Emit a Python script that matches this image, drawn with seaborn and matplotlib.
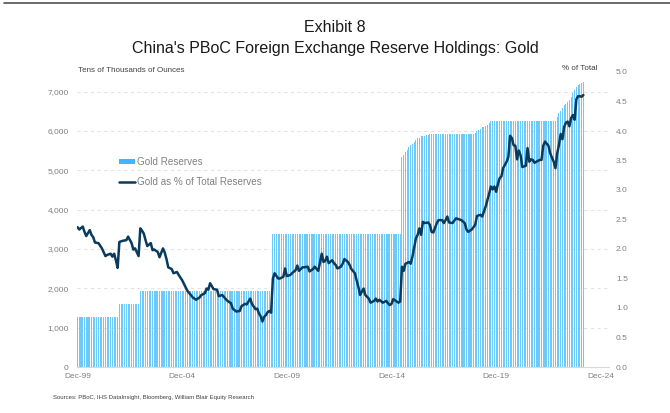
import numpy as np
import pandas as pd
import matplotlib
matplotlib.use("Agg")
import matplotlib.pyplot as plt
from matplotlib.lines import Line2D
from matplotlib.patches import Patch
from matplotlib.ticker import FuncFormatter, MultipleLocator
import seaborn as sns

# ---------------- data ----------------
# Gold reserves (tens of thousands of ounces), monthly from Dec-1999, given as level + number of months held
reserve_level = [1267, 1608, 1929, 3389,
                 5332, 5393, 5459, 5524, 5581, 5641, 5666, 5719, 5779, 5814, 5828, 5861,
                 5862, 5871, 5888, 5904, 5924,
                 5956, 5994, 6026, 6062, 6092, 6109, 6131, 6161, 6194, 6264,
                 6367, 6464, 6512, 6592, 6650, 6676, 6727, 6795, 6869, 6962, 7046,
                 7120, 7158, 7187, 7219, 7258]
reserve_months = [24, 12, 76, 74,
                  1, 1, 1, 1, 1, 1, 1, 1, 1, 1, 1, 1,
                  1, 1, 1, 1, 26,
                  1, 1, 1, 1, 1, 1, 1, 1, 1, 38,
                  1, 1, 1, 1, 1, 1, 1, 1, 1, 1, 1,
                  1, 1, 1, 1, 1]

# Gold as % of total reserves (month index from Dec-1999, value)
line_month = [0, 1, 3, 4, 5, 7, 8, 9, 10, 12, 14, 16, 17, 19, 20, 21, 22, 23, 24, 26,
              28, 29, 31, 32, 33, 35, 36, 37, 38, 39, 40, 42, 43, 44, 46, 47, 49, 50, 51, 52,
              54, 55, 57, 58, 60, 62, 63, 65, 66, 68, 70, 71, 73, 74, 75, 76, 78, 80, 81, 83,
              85, 86, 88, 89, 91, 93, 94, 96, 97, 99, 100, 102, 103, 104, 105, 106, 107, 108, 109, 110,
              111, 112, 113, 115, 116, 118, 119, 120, 122, 123, 125, 126, 127, 129, 130, 132, 133, 135, 136, 138,
              139, 140, 141, 142, 143, 144, 146, 147, 148, 149, 151, 152, 153, 155, 156, 157, 159, 160, 161, 162,
              164, 165, 167, 168, 170, 171, 172, 173, 175, 177, 178, 179, 180, 181, 183, 184, 185, 186, 187, 188,
              190, 191, 192, 194, 195, 196, 197, 198, 199, 201, 202, 203, 204, 206, 207, 209, 210, 211, 212, 213,
              215, 216, 217, 219, 220, 222, 223, 224, 226, 228, 229, 231, 232, 234, 235, 236, 237, 238, 239, 240,
              241, 242, 243, 244, 246, 247, 248, 249, 250, 251, 252, 253, 254, 255, 257, 258, 259, 260, 261, 262,
              263, 265, 266, 267, 268, 270, 271, 273, 274, 275, 276, 277, 278, 279, 280, 281, 282, 283, 284, 285,
              286, 287, 288, 289, 290]
line_pct = [2.37, 2.33, 2.38, 2.29, 2.22, 2.32, 2.24, 2.20, 2.11, 2.10, 2.01, 1.88, 1.90, 1.92, 1.87, 1.92, 1.81, 1.68, 2.12, 2.14,
            2.15, 2.21, 2.10, 1.99, 2.01, 1.88, 2.35, 2.31, 2.26, 2.15, 2.05, 2.10, 1.98, 1.99, 1.95, 1.86, 2.01, 1.94, 1.83, 1.69,
            1.66, 1.59, 1.61, 1.56, 1.47, 1.35, 1.29, 1.22, 1.18, 1.14, 1.18, 1.22, 1.25, 1.33, 1.31, 1.42, 1.32, 1.31, 1.20, 1.22,
            1.15, 1.12, 1.08, 0.99, 0.94, 0.95, 1.03, 1.07, 1.06, 1.16, 1.07, 0.98, 0.99, 0.91, 0.86, 0.77, 0.85, 0.88, 0.93, 0.95,
            0.92, 1.50, 1.59, 1.50, 1.50, 1.53, 1.67, 1.54, 1.56, 1.59, 1.64, 1.72, 1.63, 1.69, 1.69, 1.70, 1.62, 1.66, 1.70, 1.63,
            1.77, 1.92, 1.78, 1.80, 1.87, 1.76, 1.81, 1.76, 1.73, 1.67, 1.70, 1.75, 1.83, 1.78, 1.73, 1.66, 1.59, 1.47, 1.36, 1.22,
            1.33, 1.22, 1.16, 1.09, 1.12, 1.16, 1.11, 1.14, 1.09, 1.12, 1.08, 1.05, 1.07, 1.15, 1.11, 1.09, 1.11, 1.70, 1.63, 1.75,
            1.78, 1.75, 1.87, 2.18, 2.24, 2.35, 2.24, 2.46, 2.44, 2.45, 2.41, 2.29, 2.28, 2.44, 2.49, 2.49, 2.44, 2.49, 2.55, 2.45,
            2.44, 2.48, 2.52, 2.50, 2.49, 2.44, 2.33, 2.29, 2.33, 2.41, 2.56, 2.58, 2.55, 2.72, 2.83, 2.94, 3.06, 3.01, 3.06, 2.97,
            3.10, 3.20, 3.23, 3.37, 3.48, 3.56, 3.92, 3.88, 3.76, 3.75, 3.52, 3.67, 3.59, 3.39, 3.41, 3.71, 3.48, 3.52, 3.51, 3.46,
            3.48, 3.51, 3.51, 3.75, 3.82, 3.75, 3.62, 3.48, 3.37, 3.62, 3.76, 3.95, 3.86, 4.07, 4.14, 4.16, 4.08, 4.22, 4.27, 4.19,
            4.54, 4.59, 4.59, 4.58, 4.61]

tick_months = [0, 60, 120, 180, 240, 300]
tick_labels = ["Dec-99", "Dec-04", "Dec-09", "Dec-14", "Dec-19", "Dec-24"]

# ---------------- style ----------------
sns.set_style("white")
plt.rcParams["font.family"] = ["Liberation Sans", "DejaVu Sans"]

BAR_C = "#6CC9F9"
LINE_C = "#0A3B5C"
GRAY = "#808080"

reserves = np.repeat(reserve_level, reserve_months)
bar_df = pd.DataFrame({"month": np.arange(len(reserves)), "reserves": reserves})
line_df = pd.DataFrame({"month": line_month, "pct": line_pct})

fig = plt.figure(figsize=(6.7, 4.13), dpi=100)
ax = fig.add_axes([77 / 670, 1 - 367 / 413, (609 - 77) / 670, (367 - 72) / 413])

ax.yaxis.grid(True, color="#E3E3E3", linestyle=(0, (3, 3)), linewidth=0.8)
ax.set_axisbelow(True)

sns.barplot(data=bar_df, x="month", y="reserves", native_scale=True, color=BAR_C,
            width=0.6, linewidth=0, saturation=1, ax=ax, zorder=2)

ax.set_xlim(-0.3, 304.7)
ax.set_ylim(0, 7500)
ax.set_yticks(np.arange(0, 7001, 1000))
ax.yaxis.set_major_formatter(FuncFormatter(lambda v, p: f"{int(v):,}"))
ax.set_xticks(tick_months)
ax.set_xticklabels(tick_labels)
ax.tick_params(axis="both", length=0, labelsize=6, labelcolor=GRAY)
ax.tick_params(axis="y", pad=6)
ax.tick_params(axis="x", pad=4)
ax.set_xlabel("")
ax.set_ylabel("")
for s in ["top", "right", "left"]:
    ax.spines[s].set_visible(False)
ax.spines["bottom"].set_color("#D9D9D9")
ax.spines["bottom"].set_linewidth(0.8)

ax2 = ax.twinx()
sns.lineplot(data=line_df, x="month", y="pct", color=LINE_C, linewidth=1.8, ax=ax2, zorder=3)
ax2.set_ylim(0, 5.0)
ax2.yaxis.set_major_locator(MultipleLocator(0.5))
ax2.yaxis.set_major_formatter(FuncFormatter(lambda v, p: f"{v:.1f}"))
ax2.tick_params(axis="y", length=0, labelsize=6, labelcolor=GRAY, pad=5)
ax2.set_ylabel("")
ax2.set_xlabel("")
for s in ax2.spines.values():
    s.set_visible(False)
ax2.set_xlim(-0.3, 304.7)

# axis titles
fig.text(78 / 670, 1 - 71 / 413, "Tens of Thousands of Ounces", fontsize=5.8, color="#404040", va="center", ha="left")
fig.text(597 / 670, 1 - 68 / 413, "% of Total", fontsize=5.8, color="#404040", va="center", ha="right")

# titles
fig.text(335 / 670, 1 - 28 / 413, "Exhibit 8", fontsize=11.5, color="#1a1a1a", ha="center", va="center")
fig.text(335 / 670, 1 - 49 / 413, "China's PBoC Foreign Exchange Reserve Holdings: Gold",
         fontsize=11.5, color="#1a1a1a", ha="center", va="center")

# top rule
fig.add_artist(Line2D([4 / 670, 1.0], [1 - 3 / 413, 1 - 3 / 413], color="#505050", linewidth=1.2))

# legend
handles = [Patch(facecolor="#3DB8FF", edgecolor="none"),
           Line2D([0], [0], color=LINE_C, linewidth=1.8)]
leg = fig.legend(handles, ["Gold Reserves", "Gold as % of Total Reserves"],
                 loc="upper left", bbox_to_anchor=(119 / 670, 1 - 157 / 413),
                 frameon=False, fontsize=7.1, handlelength=1.65, handleheight=0.5,
                 handletextpad=0.15, labelspacing=1.05, borderpad=0, borderaxespad=0)
for t in leg.get_texts():
    t.set_color(GRAY)

# source
fig.text(53 / 670, 1 - 398 / 413, "Sources: PBoC, IHS DataInsight, Bloomberg, William Blair Equity Research",
         fontsize=4.3, color="#404040", ha="left", va="center")

fig.savefig("out.png", dpi=100)
